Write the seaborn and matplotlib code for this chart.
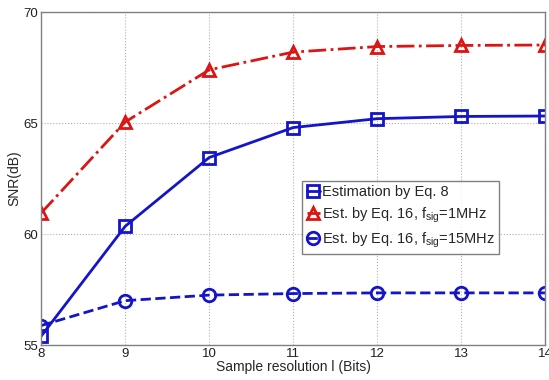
import matplotlib
matplotlib.use('Agg')
import matplotlib.pyplot as plt
import seaborn as sns

sns.set_style('whitegrid')
plt.rcParams['font.family'] = ['Liberation Sans', 'DejaVu Sans']
plt.rcParams['mathtext.fontset'] = 'custom'
plt.rcParams['mathtext.rm'] = 'Liberation Sans'
plt.rcParams['mathtext.it'] = 'Liberation Sans'

bits = [8, 9, 10, 11, 12, 13, 14]
snr_eq8 = [55.4, 60.35, 63.45, 64.8, 65.2, 65.3, 65.32]
snr_1mhz = [60.95, 65.05, 67.4, 68.2, 68.45, 68.5, 68.52]
snr_15mhz = [55.88, 57.0, 57.25, 57.32, 57.35, 57.35, 57.35]

blue = '#1414c8'
red = '#dc1414'

fig = plt.figure(figsize=(5.49, 3.80), dpi=100)
ax = fig.add_axes([0.075, 0.092, 0.918, 0.876])

sns.lineplot(x=bits, y=snr_eq8, ax=ax, color=blue, lw=2, linestyle='-',
             marker='s', ms=8, mew=2, mfc='none', mec=blue,
             label='Estimation by Eq. 8')
sns.lineplot(x=bits, y=snr_1mhz, ax=ax, color=red, lw=2, linestyle='-.',
             marker='^', ms=9, mew=2, mfc='none', mec=red,
             label=r'Est. by Eq. 16, f$_{\rm sig}$=1MHz')
sns.lineplot(x=bits, y=snr_15mhz, ax=ax, color=blue, lw=2, linestyle='--',
             marker='o', ms=9, mew=2, mfc='none', mec=blue,
             label=r'Est. by Eq. 16, f$_{\rm sig}$=15MHz')

ax.set_xlim(8, 14)
ax.set_ylim(55, 70)
ax.set_xticks(bits)
ax.set_yticks([55, 60, 65, 70])
ax.grid(True, color='#b0b0b0', linestyle=':', linewidth=0.8)
for s in ax.spines.values():
    s.set_color('#808080')
    s.set_linewidth(1)
ax.tick_params(labelsize=9.5, length=0, pad=2, colors='#202020')
ax.set_xlabel('Sample resolution l (Bits)', fontsize=10, labelpad=0)
ax.set_ylabel('SNR(dB)', fontsize=10, labelpad=2)

leg = ax.legend(loc='upper left', bbox_to_anchor=(0.518, 0.4925), fontsize=10.5,
                frameon=True, fancybox=False, handlelength=0.9,
                handletextpad=0.15, borderpad=0.3, labelspacing=0.4,
                borderaxespad=0)
leg.get_frame().set_edgecolor('#606060')
leg.get_frame().set_linewidth(1)

fig.savefig('out.png', dpi=100)
